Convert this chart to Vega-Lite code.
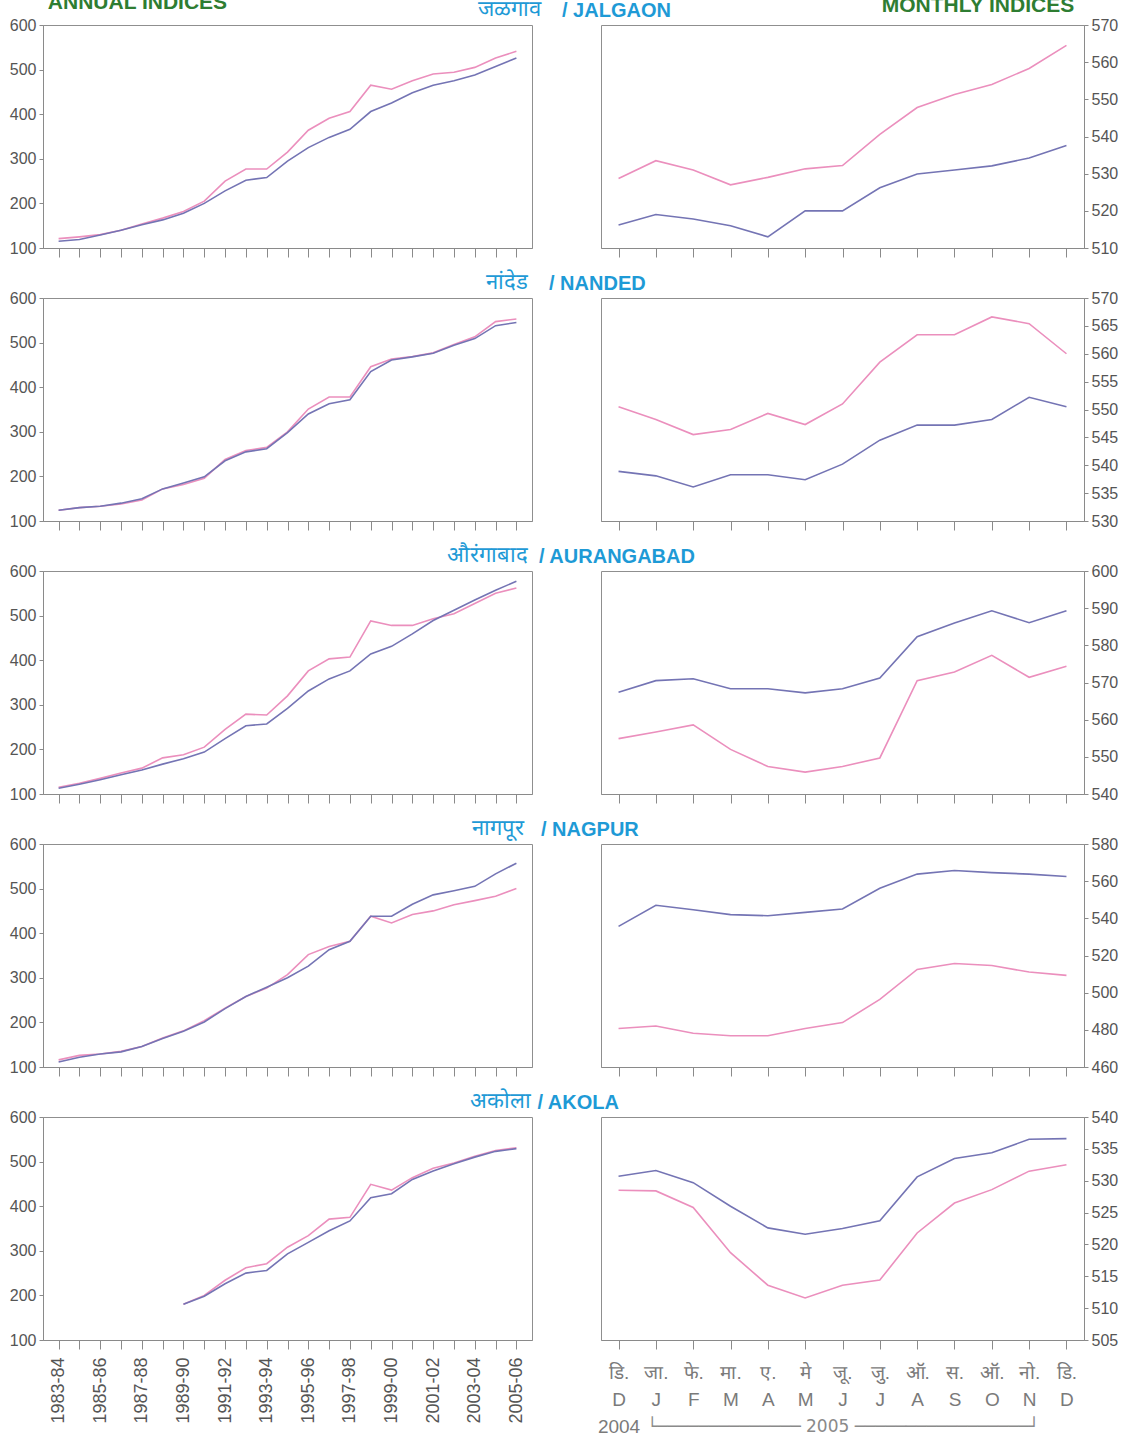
{
  "$schema": "https://vega.github.io/schema/vega-lite/v6.json",
  "background": "white",
  "padding": {"left": 8, "top": -9, "right": 2, "bottom": 0},
  "title": {"text": "ANNUAL INDICES", "anchor": "start", "color": "#2e7d32", "fontSize": 21, "fontWeight": "bold", "offset": -18, "dx": 39},
  "spacing": 12,
  "datasets": {
    "jalgaon_annual": [
      {"year":"1983-84","series":"S1","value":121},{"year":"1984-85","series":"S1","value":125},{"year":"1985-86","series":"S1","value":130},{"year":"1986-87","series":"S1","value":140},{"year":"1987-88","series":"S1","value":154},{"year":"1988-89","series":"S1","value":167},{"year":"1989-90","series":"S1","value":182},{"year":"1990-91","series":"S1","value":205},{"year":"1991-92","series":"S1","value":250},{"year":"1992-93","series":"S1","value":277},{"year":"1993-94","series":"S1","value":277},{"year":"1994-95","series":"S1","value":315},{"year":"1995-96","series":"S1","value":364},{"year":"1996-97","series":"S1","value":391},{"year":"1997-98","series":"S1","value":406},{"year":"1998-99","series":"S1","value":465},{"year":"1999-00","series":"S1","value":456},{"year":"2000-01","series":"S1","value":475},{"year":"2001-02","series":"S1","value":490},{"year":"2002-03","series":"S1","value":494},{"year":"2003-04","series":"S1","value":505},{"year":"2004-05","series":"S1","value":526},{"year":"2005-06","series":"S1","value":541},
      {"year":"1983-84","series":"S2","value":115},{"year":"1984-85","series":"S2","value":119},{"year":"1985-86","series":"S2","value":129},{"year":"1986-87","series":"S2","value":140},{"year":"1987-88","series":"S2","value":152},{"year":"1988-89","series":"S2","value":163},{"year":"1989-90","series":"S2","value":178},{"year":"1990-91","series":"S2","value":200},{"year":"1991-92","series":"S2","value":228},{"year":"1992-93","series":"S2","value":252},{"year":"1993-94","series":"S2","value":258},{"year":"1994-95","series":"S2","value":295},{"year":"1995-96","series":"S2","value":325},{"year":"1996-97","series":"S2","value":348},{"year":"1997-98","series":"S2","value":366},{"year":"1998-99","series":"S2","value":406},{"year":"1999-00","series":"S2","value":425},{"year":"2000-01","series":"S2","value":448},{"year":"2001-02","series":"S2","value":465},{"year":"2002-03","series":"S2","value":475},{"year":"2003-04","series":"S2","value":488},{"year":"2004-05","series":"S2","value":507},{"year":"2005-06","series":"S2","value":526}
    ],
    "nanded_annual": [
      {"year":"1983-84","series":"S1","value":124},{"year":"1984-85","series":"S1","value":130},{"year":"1985-86","series":"S1","value":133},{"year":"1986-87","series":"S1","value":138},{"year":"1987-88","series":"S1","value":147},{"year":"1988-89","series":"S1","value":172},{"year":"1989-90","series":"S1","value":182},{"year":"1990-91","series":"S1","value":196},{"year":"1991-92","series":"S1","value":238},{"year":"1992-93","series":"S1","value":258},{"year":"1993-94","series":"S1","value":265},{"year":"1994-95","series":"S1","value":300},{"year":"1995-96","series":"S1","value":351},{"year":"1996-97","series":"S1","value":378},{"year":"1997-98","series":"S1","value":378},{"year":"1998-99","series":"S1","value":446},{"year":"1999-00","series":"S1","value":463},{"year":"2000-01","series":"S1","value":469},{"year":"2001-02","series":"S1","value":477},{"year":"2002-03","series":"S1","value":496},{"year":"2003-04","series":"S1","value":513},{"year":"2004-05","series":"S1","value":547},{"year":"2005-06","series":"S1","value":553},
      {"year":"1983-84","series":"S2","value":124},{"year":"1984-85","series":"S2","value":130},{"year":"1985-86","series":"S2","value":133},{"year":"1986-87","series":"S2","value":140},{"year":"1987-88","series":"S2","value":150},{"year":"1988-89","series":"S2","value":172},{"year":"1989-90","series":"S2","value":185},{"year":"1990-91","series":"S2","value":199},{"year":"1991-92","series":"S2","value":235},{"year":"1992-93","series":"S2","value":255},{"year":"1993-94","series":"S2","value":262},{"year":"1994-95","series":"S2","value":298},{"year":"1995-96","series":"S2","value":340},{"year":"1996-97","series":"S2","value":363},{"year":"1997-98","series":"S2","value":372},{"year":"1998-99","series":"S2","value":435},{"year":"1999-00","series":"S2","value":461},{"year":"2000-01","series":"S2","value":468},{"year":"2001-02","series":"S2","value":476},{"year":"2002-03","series":"S2","value":494},{"year":"2003-04","series":"S2","value":509},{"year":"2004-05","series":"S2","value":538},{"year":"2005-06","series":"S2","value":545}
    ],
    "aurangabad_annual": [
      {"year":"1983-84","series":"S1","value":115},{"year":"1984-85","series":"S1","value":124},{"year":"1985-86","series":"S1","value":135},{"year":"1986-87","series":"S1","value":147},{"year":"1987-88","series":"S1","value":158},{"year":"1988-89","series":"S1","value":181},{"year":"1989-90","series":"S1","value":188},{"year":"1990-91","series":"S1","value":205},{"year":"1991-92","series":"S1","value":245},{"year":"1992-93","series":"S1","value":279},{"year":"1993-94","series":"S1","value":277},{"year":"1994-95","series":"S1","value":320},{"year":"1995-96","series":"S1","value":376},{"year":"1996-97","series":"S1","value":403},{"year":"1997-98","series":"S1","value":407},{"year":"1998-99","series":"S1","value":488},{"year":"1999-00","series":"S1","value":478},{"year":"2000-01","series":"S1","value":478},{"year":"2001-02","series":"S1","value":493},{"year":"2002-03","series":"S1","value":504},{"year":"2003-04","series":"S1","value":527},{"year":"2004-05","series":"S1","value":550},{"year":"2005-06","series":"S1","value":562},
      {"year":"1983-84","series":"S2","value":113},{"year":"1984-85","series":"S2","value":122},{"year":"1985-86","series":"S2","value":132},{"year":"1986-87","series":"S2","value":143},{"year":"1987-88","series":"S2","value":154},{"year":"1988-89","series":"S2","value":167},{"year":"1989-90","series":"S2","value":179},{"year":"1990-91","series":"S2","value":194},{"year":"1991-92","series":"S2","value":224},{"year":"1992-93","series":"S2","value":253},{"year":"1993-94","series":"S2","value":257},{"year":"1994-95","series":"S2","value":292},{"year":"1995-96","series":"S2","value":331},{"year":"1996-97","series":"S2","value":358},{"year":"1997-98","series":"S2","value":376},{"year":"1998-99","series":"S2","value":414},{"year":"1999-00","series":"S2","value":431},{"year":"2000-01","series":"S2","value":459},{"year":"2001-02","series":"S2","value":489},{"year":"2002-03","series":"S2","value":512},{"year":"2003-04","series":"S2","value":535},{"year":"2004-05","series":"S2","value":557},{"year":"2005-06","series":"S2","value":577}
    ],
    "nagpur_annual": [
      {"year":"1983-84","series":"S1","value":116},{"year":"1984-85","series":"S1","value":126},{"year":"1985-86","series":"S1","value":129},{"year":"1986-87","series":"S1","value":135},{"year":"1987-88","series":"S1","value":146},{"year":"1988-89","series":"S1","value":165},{"year":"1989-90","series":"S1","value":181},{"year":"1990-91","series":"S1","value":204},{"year":"1991-92","series":"S1","value":232},{"year":"1992-93","series":"S1","value":258},{"year":"1993-94","series":"S1","value":277},{"year":"1994-95","series":"S1","value":307},{"year":"1995-96","series":"S1","value":352},{"year":"1996-97","series":"S1","value":370},{"year":"1997-98","series":"S1","value":382},{"year":"1998-99","series":"S1","value":438},{"year":"1999-00","series":"S1","value":423},{"year":"2000-01","series":"S1","value":442},{"year":"2001-02","series":"S1","value":450},{"year":"2002-03","series":"S1","value":464},{"year":"2003-04","series":"S1","value":473},{"year":"2004-05","series":"S1","value":483},{"year":"2005-06","series":"S1","value":500},
      {"year":"1983-84","series":"S2","value":111},{"year":"1984-85","series":"S2","value":122},{"year":"1985-86","series":"S2","value":129},{"year":"1986-87","series":"S2","value":134},{"year":"1987-88","series":"S2","value":146},{"year":"1988-89","series":"S2","value":164},{"year":"1989-90","series":"S2","value":180},{"year":"1990-91","series":"S2","value":201},{"year":"1991-92","series":"S2","value":231},{"year":"1992-93","series":"S2","value":258},{"year":"1993-94","series":"S2","value":279},{"year":"1994-95","series":"S2","value":300},{"year":"1995-96","series":"S2","value":326},{"year":"1996-97","series":"S2","value":363},{"year":"1997-98","series":"S2","value":382},{"year":"1998-99","series":"S2","value":438},{"year":"1999-00","series":"S2","value":438},{"year":"2000-01","series":"S2","value":465},{"year":"2001-02","series":"S2","value":486},{"year":"2002-03","series":"S2","value":495},{"year":"2003-04","series":"S2","value":505},{"year":"2004-05","series":"S2","value":533},{"year":"2005-06","series":"S2","value":557}
    ],
    "akola_annual": [
      {"year":"1989-90","series":"S1","value":180},{"year":"1990-91","series":"S1","value":200},{"year":"1991-92","series":"S1","value":234},{"year":"1992-93","series":"S1","value":262},{"year":"1993-94","series":"S1","value":271},{"year":"1994-95","series":"S1","value":308},{"year":"1995-96","series":"S1","value":334},{"year":"1996-97","series":"S1","value":371},{"year":"1997-98","series":"S1","value":375},{"year":"1998-99","series":"S1","value":449},{"year":"1999-00","series":"S1","value":436},{"year":"2000-01","series":"S1","value":464},{"year":"2001-02","series":"S1","value":485},{"year":"2002-03","series":"S1","value":497},{"year":"2003-04","series":"S1","value":512},{"year":"2004-05","series":"S1","value":525},{"year":"2005-06","series":"S1","value":531},
      {"year":"1989-90","series":"S2","value":180},{"year":"1990-91","series":"S2","value":198},{"year":"1991-92","series":"S2","value":226},{"year":"1992-93","series":"S2","value":250},{"year":"1993-94","series":"S2","value":256},{"year":"1994-95","series":"S2","value":293},{"year":"1995-96","series":"S2","value":319},{"year":"1996-97","series":"S2","value":345},{"year":"1997-98","series":"S2","value":367},{"year":"1998-99","series":"S2","value":419},{"year":"1999-00","series":"S2","value":428},{"year":"2000-01","series":"S2","value":460},{"year":"2001-02","series":"S2","value":479},{"year":"2002-03","series":"S2","value":495},{"year":"2003-04","series":"S2","value":510},{"year":"2004-05","series":"S2","value":523},{"year":"2005-06","series":"S2","value":529}
    ],
    "jalgaon_monthly": [
      {"month":"2004-12","series":"S1","value":528.7},{"month":"2005-01","series":"S1","value":533.5},{"month":"2005-02","series":"S1","value":531},{"month":"2005-03","series":"S1","value":527},{"month":"2005-04","series":"S1","value":529},{"month":"2005-05","series":"S1","value":531.3},{"month":"2005-06","series":"S1","value":532.2},{"month":"2005-07","series":"S1","value":540.6},{"month":"2005-08","series":"S1","value":547.8},{"month":"2005-09","series":"S1","value":551.3},{"month":"2005-10","series":"S1","value":554},{"month":"2005-11","series":"S1","value":558.3},{"month":"2005-12","series":"S1","value":564.5},
      {"month":"2004-12","series":"S2","value":516.2},{"month":"2005-01","series":"S2","value":519},{"month":"2005-02","series":"S2","value":517.8},{"month":"2005-03","series":"S2","value":516},{"month":"2005-04","series":"S2","value":513},{"month":"2005-05","series":"S2","value":520},{"month":"2005-06","series":"S2","value":520},{"month":"2005-07","series":"S2","value":526.2},{"month":"2005-08","series":"S2","value":529.9},{"month":"2005-09","series":"S2","value":531},{"month":"2005-10","series":"S2","value":532.1},{"month":"2005-11","series":"S2","value":534.2},{"month":"2005-12","series":"S2","value":537.6}
    ],
    "nanded_monthly": [
      {"month":"2004-12","series":"S1","value":550.5},{"month":"2005-01","series":"S1","value":548.2},{"month":"2005-02","series":"S1","value":545.5},{"month":"2005-03","series":"S1","value":546.4},{"month":"2005-04","series":"S1","value":549.3},{"month":"2005-05","series":"S1","value":547.3},{"month":"2005-06","series":"S1","value":551},{"month":"2005-07","series":"S1","value":558.5},{"month":"2005-08","series":"S1","value":563.4},{"month":"2005-09","series":"S1","value":563.4},{"month":"2005-10","series":"S1","value":566.6},{"month":"2005-11","series":"S1","value":565.4},{"month":"2005-12","series":"S1","value":560},
      {"month":"2004-12","series":"S2","value":538.9},{"month":"2005-01","series":"S2","value":538.1},{"month":"2005-02","series":"S2","value":536.1},{"month":"2005-03","series":"S2","value":538.3},{"month":"2005-04","series":"S2","value":538.3},{"month":"2005-05","series":"S2","value":537.4},{"month":"2005-06","series":"S2","value":540.2},{"month":"2005-07","series":"S2","value":544.5},{"month":"2005-08","series":"S2","value":547.2},{"month":"2005-09","series":"S2","value":547.2},{"month":"2005-10","series":"S2","value":548.2},{"month":"2005-11","series":"S2","value":552.2},{"month":"2005-12","series":"S2","value":550.5}
    ],
    "aurangabad_monthly": [
      {"month":"2004-12","series":"S1","value":554.9},{"month":"2005-01","series":"S1","value":556.7},{"month":"2005-02","series":"S1","value":558.6},{"month":"2005-03","series":"S1","value":552},{"month":"2005-04","series":"S1","value":547.4},{"month":"2005-05","series":"S1","value":545.9},{"month":"2005-06","series":"S1","value":547.4},{"month":"2005-07","series":"S1","value":549.7},{"month":"2005-08","series":"S1","value":570.5},{"month":"2005-09","series":"S1","value":572.8},{"month":"2005-10","series":"S1","value":577.3},{"month":"2005-11","series":"S1","value":571.4},{"month":"2005-12","series":"S1","value":574.4},
      {"month":"2004-12","series":"S2","value":567.4},{"month":"2005-01","series":"S2","value":570.5},{"month":"2005-02","series":"S2","value":571},{"month":"2005-03","series":"S2","value":568.3},{"month":"2005-04","series":"S2","value":568.3},{"month":"2005-05","series":"S2","value":567.2},{"month":"2005-06","series":"S2","value":568.3},{"month":"2005-07","series":"S2","value":571.2},{"month":"2005-08","series":"S2","value":582.3},{"month":"2005-09","series":"S2","value":586},{"month":"2005-10","series":"S2","value":589.3},{"month":"2005-11","series":"S2","value":586.1},{"month":"2005-12","series":"S2","value":589.3}
    ],
    "nagpur_monthly": [
      {"month":"2004-12","series":"S1","value":480.7},{"month":"2005-01","series":"S1","value":482.1},{"month":"2005-02","series":"S1","value":478.2},{"month":"2005-03","series":"S1","value":476.8},{"month":"2005-04","series":"S1","value":476.8},{"month":"2005-05","series":"S1","value":480.7},{"month":"2005-06","series":"S1","value":483.9},{"month":"2005-07","series":"S1","value":496.4},{"month":"2005-08","series":"S1","value":512.5},{"month":"2005-09","series":"S1","value":515.7},{"month":"2005-10","series":"S1","value":514.6},{"month":"2005-11","series":"S1","value":511.1},{"month":"2005-12","series":"S1","value":509.3},
      {"month":"2004-12","series":"S2","value":535.7},{"month":"2005-01","series":"S2","value":547},{"month":"2005-02","series":"S2","value":544.6},{"month":"2005-03","series":"S2","value":542},{"month":"2005-04","series":"S2","value":541.4},{"month":"2005-05","series":"S2","value":543.2},{"month":"2005-06","series":"S2","value":545},{"month":"2005-07","series":"S2","value":556.2},{"month":"2005-08","series":"S2","value":563.8},{"month":"2005-09","series":"S2","value":565.7},{"month":"2005-10","series":"S2","value":564.6},{"month":"2005-11","series":"S2","value":563.8},{"month":"2005-12","series":"S2","value":562.5}
    ],
    "akola_monthly": [
      {"month":"2004-12","series":"S1","value":528.5},{"month":"2005-01","series":"S1","value":528.4},{"month":"2005-02","series":"S1","value":525.8},{"month":"2005-03","series":"S1","value":518.7},{"month":"2005-04","series":"S1","value":513.6},{"month":"2005-05","series":"S1","value":511.6},{"month":"2005-06","series":"S1","value":513.6},{"month":"2005-07","series":"S1","value":514.4},{"month":"2005-08","series":"S1","value":521.8},{"month":"2005-09","series":"S1","value":526.5},{"month":"2005-10","series":"S1","value":528.6},{"month":"2005-11","series":"S1","value":531.5},{"month":"2005-12","series":"S1","value":532.5},
      {"month":"2004-12","series":"S2","value":530.7},{"month":"2005-01","series":"S2","value":531.6},{"month":"2005-02","series":"S2","value":529.7},{"month":"2005-03","series":"S2","value":526},{"month":"2005-04","series":"S2","value":522.6},{"month":"2005-05","series":"S2","value":521.6},{"month":"2005-06","series":"S2","value":522.5},{"month":"2005-07","series":"S2","value":523.7},{"month":"2005-08","series":"S2","value":530.6},{"month":"2005-09","series":"S2","value":533.5},{"month":"2005-10","series":"S2","value":534.4},{"month":"2005-11","series":"S2","value":536.5},{"month":"2005-12","series":"S2","value":536.6}
    ]
  },
  "vconcat": [
    {
      "title": {"text": "MONTHLY INDICES", "anchor": "end", "color": "#2e7d32", "fontSize": 21, "fontWeight": "bold", "offset": -18, "dx": -44},
      "spacing": 19,
      "hconcat": [
        {
          "width": 489, "height": 223,
          "data": {"name": "jalgaon_annual"},
          "title": {"text": "जळगाव", "anchor": "end", "fontWeight": "normal", "fontSize": 22, "dx": 9},
          "mark": "line",
          "encoding": {
            "x": {"field": "year", "type": "ordinal", "scale": {"type": "point", "padding": 0.75}, "axis": {"title": null, "labels": false}},
            "y": {"field": "value", "type": "quantitative", "scale": {"domain": [100, 600], "nice": false, "zero": false}, "axis": {"title": null, "values": [100, 200, 300, 400, 500, 600]}},
            "color": {"field": "series", "type": "nominal", "legend": null}
          }
        },
        {
          "width": 483, "height": 223,
          "data": {"name": "jalgaon_monthly"},
          "title": {"text": "/  JALGAON", "anchor": "start", "dx": -39},
          "mark": "line",
          "encoding": {
            "x": {"field": "month", "type": "ordinal", "scale": {"type": "point", "padding": 0.47}, "axis": {"title": null, "labels": false}},
            "y": {"field": "value", "type": "quantitative", "scale": {"domain": [510, 570], "nice": false, "zero": false}, "axis": {"title": null, "orient": "right", "values": [510, 520, 530, 540, 550, 560, 570]}},
            "color": {"field": "series", "type": "nominal", "legend": null}
          }
        }
      ]
    },
    {
      "spacing": 15,
      "hconcat": [
        {
          "width": 489, "height": 223,
          "data": {"name": "nanded_annual"},
          "title": {"text": "नांदेड", "anchor": "end", "fontWeight": "normal", "fontSize": 22, "dx": -4},
          "mark": "line",
          "encoding": {
            "x": {"field": "year", "type": "ordinal", "scale": {"type": "point", "padding": 0.75}, "axis": {"title": null, "labels": false}},
            "y": {"field": "value", "type": "quantitative", "scale": {"domain": [100, 600], "nice": false, "zero": false}, "axis": {"title": null, "values": [100, 200, 300, 400, 500, 600]}},
            "color": {"field": "series", "type": "nominal", "legend": null}
          }
        },
        {
          "width": 483, "height": 223,
          "data": {"name": "nanded_monthly"},
          "title": {"text": "/  NANDED", "anchor": "start", "dx": -52},
          "mark": "line",
          "encoding": {
            "x": {"field": "month", "type": "ordinal", "scale": {"type": "point", "padding": 0.47}, "axis": {"title": null, "labels": false}},
            "y": {"field": "value", "type": "quantitative", "scale": {"domain": [530, 570], "nice": false, "zero": false}, "axis": {"title": null, "orient": "right", "values": [530, 535, 540, 545, 550, 555, 560, 565, 570]}},
            "color": {"field": "series", "type": "nominal", "legend": null}
          }
        }
      ]
    },
    {
      "spacing": 5,
      "hconcat": [
        {
          "width": 489, "height": 223,
          "data": {"name": "aurangabad_annual"},
          "title": {"text": "औरंगाबाद", "anchor": "end", "fontWeight": "normal", "fontSize": 22, "dx": -4},
          "mark": "line",
          "encoding": {
            "x": {"field": "year", "type": "ordinal", "scale": {"type": "point", "padding": 0.75}, "axis": {"title": null, "labels": false}},
            "y": {"field": "value", "type": "quantitative", "scale": {"domain": [100, 600], "nice": false, "zero": false}, "axis": {"title": null, "values": [100, 200, 300, 400, 500, 600]}},
            "color": {"field": "series", "type": "nominal", "legend": null}
          }
        },
        {
          "width": 483, "height": 223,
          "data": {"name": "aurangabad_monthly"},
          "title": {"text": "/  AURANGABAD", "anchor": "start", "dx": -62},
          "mark": "line",
          "encoding": {
            "x": {"field": "month", "type": "ordinal", "scale": {"type": "point", "padding": 0.47}, "axis": {"title": null, "labels": false}},
            "y": {"field": "value", "type": "quantitative", "scale": {"domain": [540, 600], "nice": false, "zero": false}, "axis": {"title": null, "orient": "right", "values": [540, 550, 560, 570, 580, 590, 600]}},
            "color": {"field": "series", "type": "nominal", "legend": null}
          }
        }
      ]
    },
    {
      "spacing": 7,
      "hconcat": [
        {
          "width": 489, "height": 223,
          "data": {"name": "nagpur_annual"},
          "title": {"text": "नागपूर", "anchor": "end", "fontWeight": "normal", "fontSize": 22, "dx": -8},
          "mark": "line",
          "encoding": {
            "x": {"field": "year", "type": "ordinal", "scale": {"type": "point", "padding": 0.75}, "axis": {"title": null, "labels": false}},
            "y": {"field": "value", "type": "quantitative", "scale": {"domain": [100, 600], "nice": false, "zero": false}, "axis": {"title": null, "values": [100, 200, 300, 400, 500, 600]}},
            "color": {"field": "series", "type": "nominal", "legend": null}
          }
        },
        {
          "width": 483, "height": 223,
          "data": {"name": "nagpur_monthly"},
          "title": {"text": "/  NAGPUR", "anchor": "start", "dx": -60},
          "mark": "line",
          "encoding": {
            "x": {"field": "month", "type": "ordinal", "scale": {"type": "point", "padding": 0.47}, "axis": {"title": null, "labels": false}},
            "y": {"field": "value", "type": "quantitative", "scale": {"domain": [460, 580], "nice": false, "zero": false}, "axis": {"title": null, "orient": "right", "values": [460, 480, 500, 520, 540, 560, 580]}},
            "color": {"field": "series", "type": "nominal", "legend": null}
          }
        }
      ]
    },
    {
      "spacing": 3,
      "hconcat": [
        {
          "width": 489, "height": 223,
          "data": {"name": "akola_annual"},
          "title": {"text": "अकोला", "anchor": "end", "fontWeight": "normal", "fontSize": 22, "dx": -1},
          "mark": "line",
          "encoding": {
            "x": {"field": "year", "type": "ordinal", "scale": {"type": "point", "padding": 0.75, "domain": ["1983-84","1984-85","1985-86","1986-87","1987-88","1988-89","1989-90","1990-91","1991-92","1992-93","1993-94","1994-95","1995-96","1996-97","1997-98","1998-99","1999-00","2000-01","2001-02","2002-03","2003-04","2004-05","2005-06"]}, "axis": {"title": null, "labelAngle": 270, "labelFontSize": 18, "labelPadding": 8, "labelOverlap": false, "labelExpr": "toNumber(substring(datum.value, 0, 4)) % 2 == 1 ? datum.value : ''"}},
            "y": {"field": "value", "type": "quantitative", "scale": {"domain": [100, 600], "nice": false, "zero": false}, "axis": {"title": null, "values": [100, 200, 300, 400, 500, 600]}},
            "color": {"field": "series", "type": "nominal", "legend": null}
          }
        },
        {
          "width": 483, "height": 223,
          "data": {"name": "akola_monthly"},
          "title": {"text": "/  AKOLA", "anchor": "start", "dx": -60},
          "mark": "line",
          "encoding": {
            "x": {"field": "month", "type": "ordinal", "scale": {"type": "point", "padding": 0.47}, "axis": {"title": "└──────────────  2005  ─────────────────┘", "titleFont": "DejaVu Sans", "titleFontSize": 17, "titleFontWeight": "normal", "titleColor": "#8a8a8a", "titlePadding": -18, "labelAngle": 0, "labelOverlap": false, "labelBound": false, "labelFontSize": 19, "labelLineHeight": 27, "labelColor": "#7a7a7a", "labelPadding": 14, "labelExpr": "split(['डि.|D|2004','जा.|J','फे.|F','मा.|M','ए.|A','मे|M','जू.|J','जु.|J','ऑ.|A','स.|S','ऑ.|O','नो.|N','डि.|D'][datum.value == '2004-12' ? 0 : toNumber(substring(datum.value, 5, 7))], '|')"}},
            "y": {"field": "value", "type": "quantitative", "scale": {"domain": [505, 540], "nice": false, "zero": false}, "axis": {"title": null, "orient": "right", "values": [505, 510, 515, 520, 525, 530, 535, 540]}},
            "color": {"field": "series", "type": "nominal", "legend": null}
          }
        }
      ]
    }
  ],
  "config": {
    "view": {"stroke": "#8f8f8f", "strokeWidth": 1},
    "range": {"category": ["#eb8fbd", "#7474b4"]},
    "axis": {"grid": false, "domainColor": "#8a8a8a", "tickColor": "#8a8a8a", "labelColor": "#555555", "labelFont": "Liberation Sans", "labelFontSize": 16},
    "axisX": {"tickSize": 9},
    "axisY": {"tickSize": 4, "labelPadding": 3},
    "line": {"strokeWidth": 1.6},
    "title": {"font": "Liberation Sans", "fontSize": 20, "fontWeight": "bold", "color": "#1e9ad6", "offset": -4}
  }
}
